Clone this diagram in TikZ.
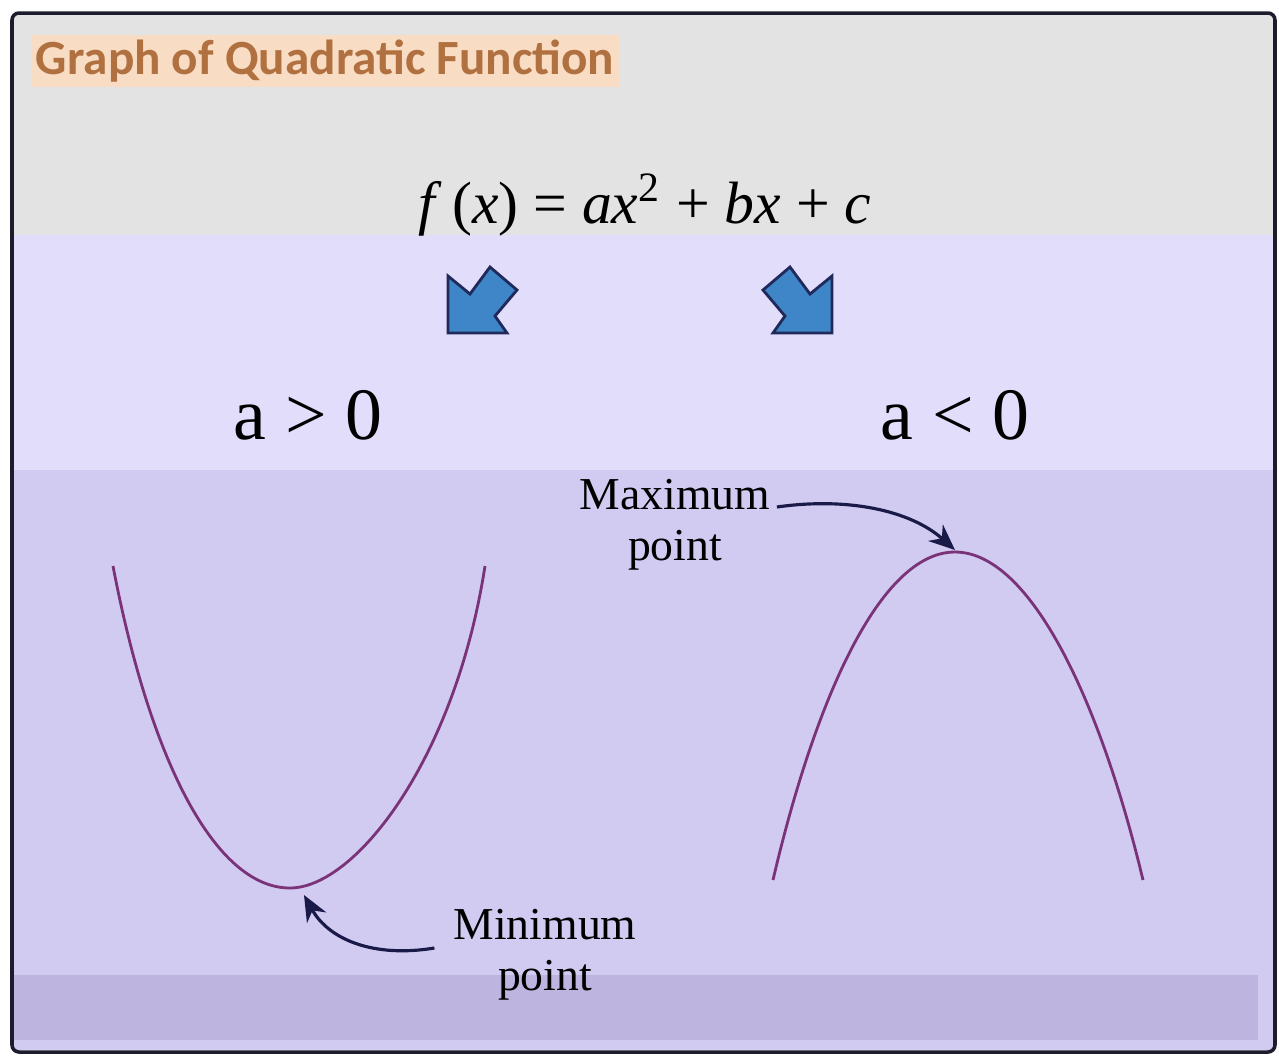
\documentclass[tikz,border=0pt]{standalone}
\usepackage{fontspec}
\setmainfont{Liberation Serif}
\newfontfamily\titlefont{Carlito}
\usetikzlibrary{arrows.meta}

\definecolor{bandgray}{HTML}{E3E3E3}
\definecolor{bandlight}{HTML}{E2DDFB}
\definecolor{bandmid}{HTML}{D1CBF2}
\definecolor{banddark}{HTML}{BDB5E0}
\definecolor{framecol}{HTML}{1C1C2C}
\definecolor{titlecol}{HTML}{B0703F}
\definecolor{titlebg}{HTML}{F8DCC4}
\definecolor{curvecol}{HTML}{7A3278}
\definecolor{pointercol}{HTML}{1A1A48}
\definecolor{arrowblue}{HTML}{3F86C8}
\definecolor{arrowedge}{HTML}{1F2A5A}

\tikzset{
  curve/.style={draw=curvecol, line width=0.8pt},
  pointer/.style={draw=pointercol, line width=0.9pt, -{Stealth[length=2.6mm,width=2.2mm]}},
  blockarrow/.style={fill=arrowblue, draw=arrowedge, line width=0.8pt, line join=miter},
  caselabel/.style={font=\fontsize{21}{25}\selectfont, inner sep=1pt},
  notelabel/.style={font=\fontsize{13}{15}\selectfont, inner sep=1pt},
}

\begin{document}
\begin{tikzpicture}[x=0.1mm, y=-0.1mm]
\useasboundingbox (0,0) rectangle (1279,1057);
% page and the four colour bands
\fill[white] (0,0) rectangle (1279,1057);
\fill[bandgray]  (14,14)  rectangle (1273,235);
\fill[bandlight] (14,235) rectangle (1273,470);
\fill[bandmid]   (14,470) rectangle (1273,1050);
\fill[banddark]  (14,975) rectangle (1258,1040);
\draw[framecol, line width=1pt, rounded corners=2pt] (12,13) rectangle (1275,1052);

% heading and the general form
\node[anchor=west, fill=titlebg, text=titlecol, inner sep=1.5pt,
      font=\titlefont\bfseries\fontsize{14}{17}\selectfont] (title) at (30,61) {Graph of Quadratic Function};
\node[font=\fontsize{17}{21}\selectfont] (formula) at (645,205)
  {\textit{f}\,(\textit{x}) = \textit{ax}\textsuperscript{2} + \textit{bx} + \textit{c}};

% the two block arrows, down-left and down-right
\filldraw[blockarrow] (448,276) -- (470,294) -- (490,267) -- (517,290) -- (495,316) -- (507,333) -- (448,333) -- cycle;
\filldraw[blockarrow] (832,276) -- (810,294) -- (790,267) -- (763,290) -- (785,316) -- (773,333) -- (832,333) -- cycle;

% the two cases
\node[caselabel] (apos) at (308,415) {a > 0};
\node[caselabel] (aneg) at (955,415) {a < 0};

% the curves, opening up and opening down
\draw[curve] (113,566) .. controls (150,760) and (215,888) .. (290,888)
                       .. controls (355,888) and (455,760) .. (485,566);
\draw[curve] (773,880) .. controls (815,700) and (880,552) .. (955,552)
                       .. controls (1030,552) and (1100,700) .. (1143,880);
\coordinate (minpt) at (304,895);
\coordinate (maxpt) at (955,550);

% maximum and minimum notes
\node[notelabel] (maxtop) at (675,495) {Maximum};
\node[notelabel] (maxbot) at (675,550) {point};
\node[notelabel] (mintop) at (545,925) {Minimum};
\node[notelabel] (minbot) at (545,980) {point};
\draw[pointer] ([xshift=0.25mm,yshift=-1.2mm]maxtop.east) .. controls +(70,-10) and +(-45,-40) .. (maxpt);
\draw[pointer] ([xshift=-1.5mm,yshift=-2.3mm]mintop.west) .. controls +(-60,10) and +(25,45) .. (minpt);
\end{tikzpicture}
\end{document}
